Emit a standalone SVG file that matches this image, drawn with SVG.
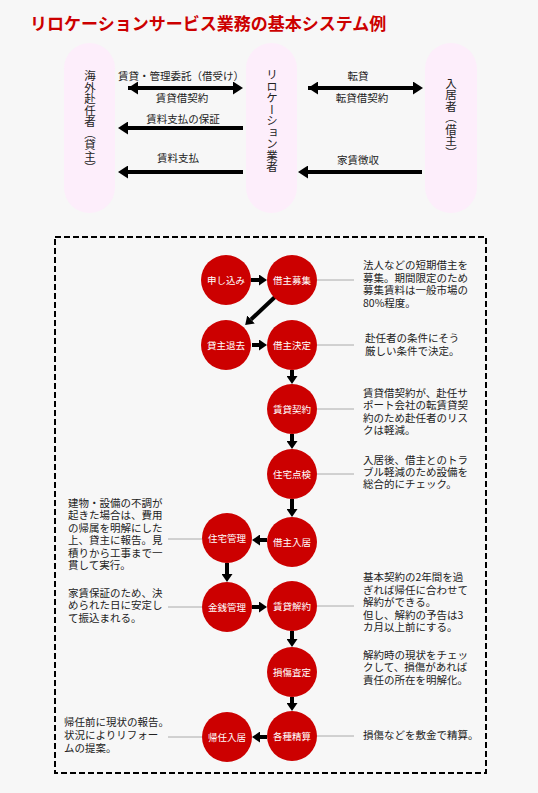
<svg xmlns="http://www.w3.org/2000/svg" width="538" height="793" viewBox="0 0 538 793">
<defs>
<marker id="hb" markerUnits="userSpaceOnUse" markerWidth="10" markerHeight="13" refX="0" refY="6.5" orient="auto"><path d="M0,0 L10,6.5 L0,13 z" fill="#000"/></marker>
<marker id="hbs" markerUnits="userSpaceOnUse" markerWidth="10" markerHeight="13" refX="10" refY="6.5" orient="auto-start-reverse"><path d="M0,0 L10,6.5 L0,13 z" fill="#000"/></marker>
<marker id="hs" markerUnits="userSpaceOnUse" markerWidth="8" markerHeight="11" refX="0" refY="5.5" orient="auto"><path d="M0,0 L8,5.5 L0,11 z" fill="#000"/></marker>
</defs>
<style>
text{font-family:"Noto Sans CJK JP","Noto Sans",sans-serif;}
.title{font-size:17px;font-weight:bold;fill:#cc0000;}
.pill{fill:#fdeefb;}
.vt{font-size:11.5px;fill:#222;writing-mode:vertical-rl;text-anchor:middle;}
.lb{font-size:10.5px;fill:#222;text-anchor:middle;}
.big{stroke:#000;stroke-width:4;fill:none;}
.fl{stroke:#000;stroke-width:4;fill:none;}
.node circle{fill:#cc0000;}
.node text{font-size:9.5px;fill:#fff;text-anchor:middle;}
.lead{stroke:#aaa;stroke-width:1;}
.desc{font-size:10.5px;fill:#222;}
</style>
<rect x="0" y="0" width="538" height="793" fill="#f7f7f7"/>
<text class="title" x="30" y="30">リロケーションサービス業務の基本システム例</text>

<g id="owner"><rect class="pill" x="64" y="43" width="51" height="170" rx="25.5"/><text class="vt" x="90" y="122">海外赴任者（貸主）</text></g>
<g id="company"><rect class="pill" x="246" y="43" width="51" height="170" rx="25.5"/><text class="vt" x="272" y="121">リロケーション業者</text></g>
<g id="tenant"><rect class="pill" x="425" y="43" width="52" height="170" rx="26"/><text class="vt" x="451" y="118">入居者（借主）</text></g>

<g id="top-connectors">
<line class="big" x1="128" y1="88" x2="233" y2="88" marker-start="url(#hbs)" marker-end="url(#hb)"/>
<line class="big" x1="243" y1="128" x2="128" y2="128" marker-end="url(#hb)"/>
<line class="big" x1="243" y1="172" x2="128" y2="172" marker-end="url(#hb)"/>
<line class="big" x1="308" y1="88" x2="413" y2="88" marker-start="url(#hbs)" marker-end="url(#hb)"/>
<line class="big" x1="422" y1="172" x2="308" y2="172" marker-end="url(#hb)"/>
<text class="lb" x="181" y="80">賃貸・管理委託（借受け）</text>
<text class="lb" x="182" y="102">賃貸借契約</text>
<text class="lb" x="183" y="123">賃料支払の保証</text>
<text class="lb" x="178" y="162">賃料支払</text>
<text class="lb" x="358" y="80">転貸</text>
<text class="lb" x="362" y="102">転貸借契約</text>
<text class="lb" x="358" y="164">家賃徴収</text>
</g>

<rect x="55" y="237" width="431" height="536" fill="none" stroke="#000" stroke-width="2" stroke-dasharray="6,3"/>

<g id="flow-connectors">
<line class="fl" x1="251" y1="280" x2="259" y2="280" marker-end="url(#hs)"/>
<line class="fl" x1="276" y1="296" x2="251" y2="319.5" marker-end="url(#hs)"/>
<line class="fl" x1="252" y1="345" x2="259" y2="345" marker-end="url(#hs)"/>
<line class="fl" x1="292" y1="370" x2="292" y2="376" marker-end="url(#hs)"/>
<line class="fl" x1="292" y1="434" x2="292" y2="441" marker-end="url(#hs)"/>
<line class="fl" x1="292" y1="499" x2="292" y2="509" marker-end="url(#hs)"/>
<line class="fl" x1="267" y1="540" x2="260" y2="540" marker-end="url(#hs)"/>
<line class="fl" x1="227" y1="563" x2="227" y2="574" marker-end="url(#hs)"/>
<line class="fl" x1="252" y1="607" x2="259" y2="607" marker-end="url(#hs)"/>
<line class="fl" x1="292" y1="631" x2="292" y2="639" marker-end="url(#hs)"/>
<line class="fl" x1="292" y1="697" x2="292" y2="703" marker-end="url(#hs)"/>
<line class="fl" x1="267" y1="737" x2="260" y2="737" marker-end="url(#hs)"/>
<line class="lead" x1="317" y1="280" x2="354" y2="280"/>
<line class="lead" x1="317" y1="345" x2="354" y2="345"/>
<line class="lead" x1="317" y1="409" x2="354" y2="409"/>
<line class="lead" x1="317" y1="474" x2="354" y2="474"/>
<line class="lead" x1="317" y1="606" x2="354" y2="606"/>
<line class="lead" x1="317" y1="736" x2="354" y2="736"/>
<line class="lead" x1="168" y1="539" x2="202" y2="539"/>
<line class="lead" x1="168" y1="607" x2="202" y2="607"/>
<line class="lead" x1="168" y1="737" x2="202" y2="737"/>
</g>

<g id="n-apply" class="node"><circle cx="226" cy="280" r="25"/><text x="226" y="284">申し込み</text></g>
<g id="n-recruit" class="node"><circle cx="292" cy="280" r="25"/><text x="292" y="284">借主募集</text></g>
<g id="n-leave" class="node"><circle cx="226" cy="345" r="25"/><text x="226" y="349">貸主退去</text></g>
<g id="n-decide" class="node"><circle cx="292" cy="345" r="25"/><text x="292" y="349">借主決定</text></g>
<g id="n-contract" class="node"><circle cx="292" cy="409" r="25"/><text x="292" y="413">賃貸契約</text></g>
<g id="n-inspect" class="node"><circle cx="292" cy="474" r="25"/><text x="292" y="478">住宅点検</text></g>
<g id="n-movein" class="node"><circle cx="292" cy="542" r="25"/><text x="292" y="546">借主入居</text></g>
<g id="n-manage" class="node"><circle cx="227" cy="538" r="25"/><text x="227" y="542">住宅管理</text></g>
<g id="n-money" class="node"><circle cx="227" cy="607" r="25"/><text x="227" y="611">金銭管理</text></g>
<g id="n-cancel" class="node"><circle cx="292" cy="606" r="25"/><text x="292" y="610">賃貸解約</text></g>
<g id="n-damage" class="node"><circle cx="292" cy="672" r="25"/><text x="292" y="676">損傷査定</text></g>
<g id="n-settle" class="node"><circle cx="292" cy="736" r="25"/><text x="292" y="740">各種精算</text></g>
<g id="n-return" class="node"><circle cx="227" cy="737" r="25"/><text x="227" y="741">帰任入居</text></g>

<g id="descs">
<text class="desc" x="363" y="269"><tspan x="363">法人などの短期借主を</tspan><tspan x="363" dy="12.6">募集。期間限定のため</tspan><tspan x="363" dy="12.6">募集賃料は一般市場の</tspan><tspan x="363" dy="12.6">80%程度。</tspan></text>
<text class="desc" x="365" y="342"><tspan x="365">赴任者の条件にそう</tspan><tspan x="365" dy="12.6">厳しい条件で決定。</tspan></text>
<text class="desc" x="363" y="397"><tspan x="363">賃貸借契約が、赴任サ</tspan><tspan x="363" dy="12.4">ポート会社の転賃貸契</tspan><tspan x="363" dy="12.4">約のため赴任者のリス</tspan><tspan x="363" dy="12.4">クは軽減。</tspan></text>
<text class="desc" x="363" y="464"><tspan x="363">入居後、借主とのトラ</tspan><tspan x="363" dy="12.2">ブル軽減のため設備を</tspan><tspan x="363" dy="12.2">総合的にチェック。</tspan></text>
<text class="desc" x="363" y="581"><tspan x="363">基本契約の2年間を過</tspan><tspan x="363" dy="12.5">ぎれば帰任に合わせて</tspan><tspan x="363" dy="12.5">解約ができる。</tspan><tspan x="363" dy="12.5">但し、解約の予告は3</tspan><tspan x="363" dy="12.5">カ月以上前にする。</tspan></text>
<text class="desc" x="363" y="659"><tspan x="363">解約時の現状をチェッ</tspan><tspan x="363" dy="12.4">クして、損傷があれば</tspan><tspan x="363" dy="12.4">責任の所在を明解化。</tspan></text>
<text class="desc" x="363" y="739">損傷などを敷金で精算。</text>
<text class="desc" x="68" y="507"><tspan x="68">建物・設備の不調が</tspan><tspan x="68" dy="12.4">起きた場合は、費用</tspan><tspan x="68" dy="12.4">の帰属を明解にした</tspan><tspan x="68" dy="12.4">上、貸主に報告。見</tspan><tspan x="68" dy="12.4">積りから工事まで一</tspan><tspan x="68" dy="12.4">貫して実行。</tspan></text>
<text class="desc" x="68" y="597"><tspan x="68">家賃保証のため、決</tspan><tspan x="68" dy="12.4">められた日に安定し</tspan><tspan x="68" dy="12.4">て振込まれる。</tspan></text>
<text class="desc" x="64" y="726"><tspan x="64">帰任前に現状の報告。</tspan><tspan x="64" dy="12.8">状況によりリフォー</tspan><tspan x="64" dy="12.8">ムの提案。</tspan></text>
</g>
</svg>
